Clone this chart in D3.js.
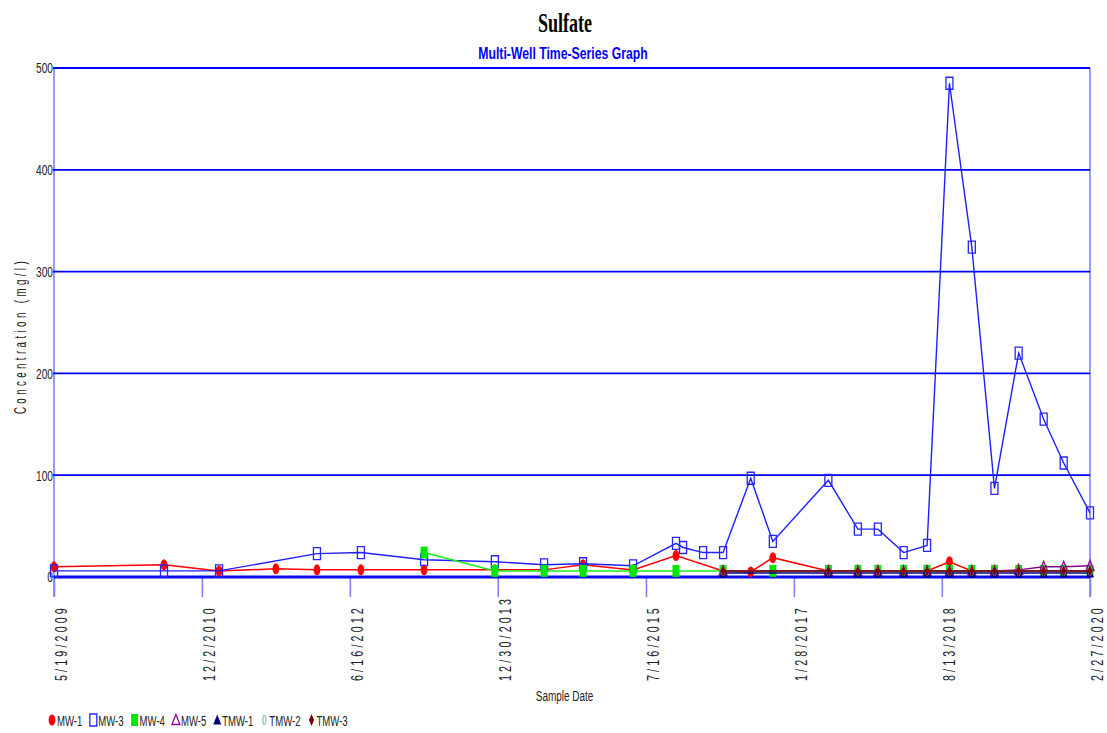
<!DOCTYPE html>
<html>
<head>
<meta charset="utf-8">
<script src="https://cdn.jsdelivr.net/npm/d3@7"></script>
<style>
  body { margin: 0; background: #fff; }
  text { font-family: "Liberation Sans", Arial, sans-serif; }
</style>
</head>
<body>
<svg id="chart" width="1107" height="733"></svg>
<script>
// ---- data ----
const xTickLabels = ["5/19/2009", "12/2/2010", "6/16/2012", "12/30/2013", "7/16/2015", "1/28/2017", "8/13/2018", "2/27/2020"];
const yTicks = [0, 100, 200, 300, 400, 500];

const wellNames = ["MW-1", "MW-3", "MW-4", "MW-5", "TMW-1", "TMW-2", "TMW-3"];

const mw1Dates = ["2009-05-19","2010-07-11","2011-02-05","2011-09-09","2012-02-12","2012-07-28","2013-03-25","2013-12-19","2014-06-24","2014-11-19","2015-05-28","2015-11-07","2016-05-04","2016-08-17","2016-11-09","2017-06-08","2017-09-28","2017-12-13","2018-03-21","2018-06-18","2018-09-11","2018-12-05","2019-03-01","2019-06-01","2019-09-04","2019-11-19","2020-02-27"];
const mw1Values = [10, 12, 6, 8, 7, 7, 7, 7, 7, 12, 7, 21, 6, 5, 19, 6, 6, 6, 6, 6, 15, 6, 6, 6, 6, 6, 6];

const mw3Dates = ["2009-05-19","2010-07-11","2011-02-05","2012-02-12","2012-07-28","2013-03-25","2013-12-19","2014-06-24","2014-11-19","2015-05-28","2015-11-07","2015-12-04","2016-02-18","2016-05-04","2016-08-17","2016-11-09","2017-06-08","2017-09-28","2017-12-13","2018-03-21","2018-06-18","2018-09-11","2018-12-05","2019-03-01","2019-06-01","2019-09-04","2019-11-19","2020-02-27"];
const mw3Values = [6, 6, 6, 23, 24, 17, 15, 12, 13, 11, 33, 29, 24, 24, 97, 35, 95, 47, 47, 24, 31, 485, 324, 87, 220, 155, 112, 63];

const mw4Dates = ["2013-03-25","2013-12-19","2014-06-24","2014-11-19","2015-05-28","2015-11-07","2016-05-04","2016-11-09","2017-06-08","2017-09-28","2017-12-13","2018-03-21","2018-06-18","2018-09-11","2018-12-05","2019-03-01","2019-06-01","2019-09-04","2019-11-19","2020-02-27"];
const mw4Values = [24, 6, 6, 6, 6, 6, 6, 6, 6, 6, 6, 6, 6, 6, 6, 6, 6, 6, 6, 6];

const laterDates = ["2016-05-04","2017-06-08","2017-09-28","2017-12-13","2018-03-21","2018-06-18","2018-09-11","2018-12-05","2019-03-01","2019-06-01","2019-09-04","2019-11-19","2020-02-27"];
const mw5Values  = [6, 6, 6, 6, 6, 6, 6, 6, 6, 7, 10, 10, 11];
const tmw1Values = [4, 4, 4, 4, 4, 4, 4, 4, 4, 4, 4, 4, 4];
const tmw2Values = [6, 6, 6, 6, 6, 6, 6, 6, 6, 6, 6, 6, 6];
const tmw3Values = [6, 6, 6, 6, 6, 6, 6, 6, 6, 6, 6, 6, 6];

// ---- styling of each well ----
const parseDate = d3.timeParse("%Y-%m-%d");
const parseTick = d3.timeParse("%m/%d/%Y");

const shapes = {
  ellipse:  "M0,-5.5A3.4,5.5 0 1,1 0,5.5A3.4,5.5 0 1,1 0,-5.5Z",
  rect:     "M-3.5,-6h7v12h-7Z",
  triangle: "M0,-5.5L4,4.5L-4,4.5Z",
  slim:     "M0,-4.5A1.5,4.5 0 1,1 0,4.5A1.5,4.5 0 1,1 0,-4.5Z",
  diamond:  "M0,-6L2.6,0L0,6L-2.6,0Z"
};

const styles = [
  { line: "#ff0000", shape: "ellipse",  fill: "#ff0000", stroke: "none",    lw: 1.5 },
  { line: "#1f1fff", shape: "rect",     fill: "none",    stroke: "#2525ff", lw: 1.4 },
  { line: "#1aee1a", shape: "rect",     fill: "#00e800", stroke: "none",    lw: 1.5 },
  { line: "#880088", shape: "triangle", fill: "none",    stroke: "#990099", lw: 1.5 },
  { line: "#000080", shape: "triangle", fill: "#000080", stroke: "none",    lw: 1.5 },
  { line: "#8cc8c8", shape: "slim",     fill: "none",    stroke: "#8cc8c8", lw: 1.2 },
  { line: "#7a1c1c", shape: "diamond",  fill: "#800000", stroke: "none",    lw: 2 }
];

const seriesDates  = [mw1Dates, mw3Dates, mw4Dates, laterDates, laterDates, laterDates, laterDates];
const seriesValues = [mw1Values, mw3Values, mw4Values, mw5Values, tmw1Values, tmw2Values, tmw3Values];

const series = wellNames.map((name, i) => ({
  name,
  style: styles[i],
  points: seriesDates[i].map((d, j) => ({ date: parseDate(d), value: seriesValues[i][j] }))
}));

// ---- scales ----
const svg = d3.select("#chart");
const xTickDates = xTickLabels.map(parseTick);
const x = d3.scaleTime().domain([xTickDates[0], xTickDates[xTickDates.length - 1]]).range([54, 1090]);
const y = d3.scaleLinear().domain([0, 500]).range([577, 68]);

// plot frame: light side borders
svg.append("g").selectAll("line").data(x.domain()).join("line")
  .attr("x1", d => x(d)).attr("x2", d => x(d))
  .attr("y1", y(500)).attr("y2", 597)
  .attr("stroke", "#8080ff").attr("stroke-width", 1.6);

// horizontal grid lines
svg.append("g").selectAll("line").data(yTicks.filter(v => v > 0)).join("line")
  .attr("x1", x.range()[0] - 1).attr("x2", x.range()[1])
  .attr("y1", d => y(d)).attr("y2", d => y(d))
  .attr("stroke", "#0000ff").attr("stroke-width", 1.8);

// y axis labels
const gy = svg.append("g").attr("transform", "translate(54,0)")
  .call(d3.axisLeft(y).tickValues(yTicks).tickSize(0).tickPadding(1.5));
gy.select(".domain").remove();
gy.selectAll(".tick text")
  .attr("transform", "scale(0.68,1)")
  .style("font-size", "15px")
  .style("font-family", "'Liberation Sans', Arial, sans-serif")
  .attr("fill", "#222");

// x axis ticks and rotated date labels
const gx = svg.append("g").attr("transform", "translate(0,577)")
  .call(d3.axisBottom(x).tickValues(xTickDates).tickSize(20).tickFormat((d, i) => xTickLabels[i]));
gx.select(".domain").remove();
gx.selectAll(".tick line").attr("stroke", "#8080ff").attr("stroke-width", 1.6);
gx.selectAll(".tick text")
  .attr("x", 0).attr("y", 0).attr("dy", 0)
  .attr("text-anchor", "start")
  .attr("transform", "translate(12.5,104) rotate(-90) scale(0.63,1)")
  .style("font-size", "17px")
  .style("letter-spacing", "5px")
  .style("font-family", "'Liberation Sans', Arial, sans-serif")
  .attr("fill", "#222");

// zero line
svg.append("line")
  .attr("x1", x.range()[0]).attr("x2", x.range()[1])
  .attr("y1", y(0)).attr("y2", y(0))
  .attr("stroke", "#0a0aff").attr("stroke-width", 3);

// series lines and markers
const line = d3.line().x(d => x(d.date)).y(d => y(d.value));
const gs = svg.append("g");
series.forEach(s => {
  const g = gs.append("g");
  g.append("path").datum(s.points)
    .attr("d", line)
    .attr("fill", "none")
    .attr("stroke", s.style.line)
    .attr("stroke-width", s.style.lw);
  g.selectAll("path.mk").data(s.points).join("path")
    .attr("class", "mk")
    .attr("d", shapes[s.style.shape])
    .attr("transform", d => `translate(${x(d.date)},${y(d.value)})`)
    .attr("fill", s.style.fill)
    .attr("stroke", s.style.stroke)
    .attr("stroke-width", 1.3);
});

// titles
svg.append("text")
  .attr("transform", "translate(565,32) scale(0.67,1)")
  .attr("text-anchor", "middle")
  .style("font-family", "'Liberation Serif', 'Times New Roman', serif")
  .style("font-weight", "bold").style("font-size", "27px")
  .attr("fill", "#000").text("Sulfate");

svg.append("text")
  .attr("transform", "translate(563,59) scale(0.72,1)")
  .attr("text-anchor", "middle")
  .style("font-weight", "bold").style("font-size", "17px")
  .attr("fill", "#0000ff").text("Multi-Well Time-Series Graph");

svg.append("text")
  .attr("transform", "translate(564.5,701) scale(0.71,1)")
  .attr("text-anchor", "middle")
  .style("font-size", "14px")
  .attr("fill", "#222").text("Sample Date");

svg.append("text")
  .attr("transform", "translate(26,336) rotate(-90) scale(0.57,1)")
  .attr("text-anchor", "middle")
  .style("font-size", "17px")
  .style("letter-spacing", "6px")
  .attr("fill", "#222").text("Concentration (mg/l)");

// legend
const legend = svg.append("g").attr("transform", "translate(0,720)");
let cursor = 48;
series.forEach(s => {
  const item = legend.append("g");
  item.append("path")
    .attr("d", shapes[s.style.shape])
    .attr("transform", `translate(${cursor + 4},0)`)
    .attr("fill", s.style.fill)
    .attr("stroke", s.style.stroke)
    .attr("stroke-width", 1.3);
  const t = item.append("text")
    .attr("transform", `translate(${cursor + 9},5.5) scale(0.66,1)`)
    .style("font-size", "14.5px")
    .attr("fill", "#222").text(s.name);
  cursor += 9 + t.node().getComputedTextLength() * 0.66 + 7;
});
</script>
</body>
</html>
